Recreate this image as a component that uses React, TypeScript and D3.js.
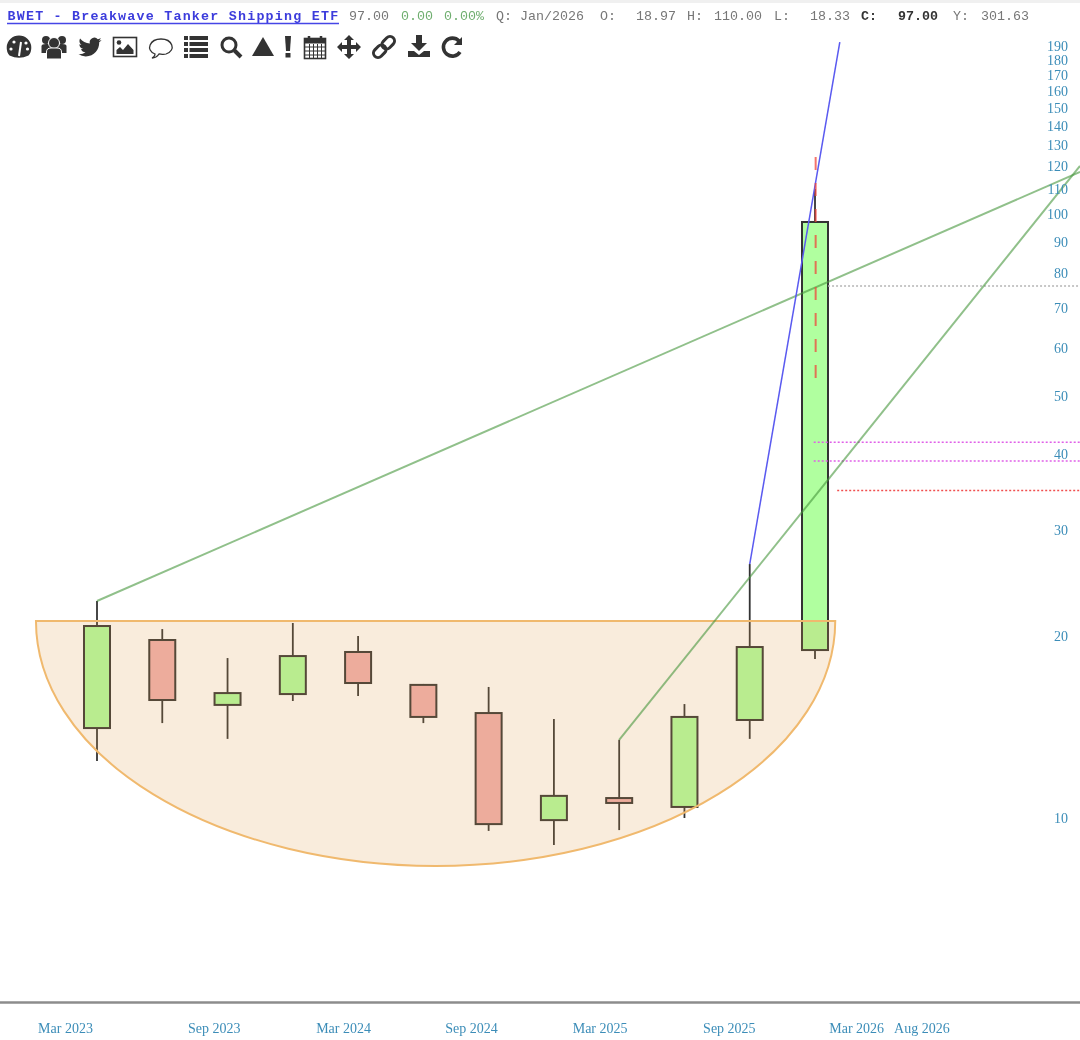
import React, { useEffect, useRef } from "react";
import * as d3 from "d3";

const width = 1080;
const height = 1040;

// Quarterly candles
const quarters = ["Apr 2023", "Jul 2023", "Oct 2023", "Jan 2024", "Apr 2024", "Jul 2024", "Oct 2024", "Jan 2025", "Apr 2025", "Jul 2025", "Oct 2025", "Jan 2026"];
const opens = [14.09, 19.71, 15.39, 16.04, 18.83, 16.61, 14.92, 9.92, 10.79, 10.43, 14.53, 18.97];
const highs = [22.87, 20.55, 18.4, 21.03, 20.02, 16.67, 16.48, 14.58, 13.47, 15.44, 26.33, 110];
const lows = [12.43, 14.36, 13.52, 15.62, 15.92, 14.36, 9.52, 9.02, 9.55, 10.0, 13.52, 18.33];
const closes = [20.79, 15.68, 16.1, 18.54, 16.73, 14.7, 9.77, 10.88, 10.59, 14.7, 19.19, 97];

const yTicks = [10, 20, 30, 40, 50, 60, 70, 80, 90, 100, 110, 120, 130, 140, 150, 160, 170, 180, 190];
const xTickLabels = ["Mar 2023", "Sep 2023", "Mar 2024", "Sep 2024", "Mar 2025", "Sep 2025", "Mar 2026", "Aug 2026"];
const xTickSlots = [-0.49, 1.79, 3.77, 5.73, 7.7, 9.68, 11.63, 12.63];

// Drawn annotations: [slot, price] pairs
const greenLineA = [[0, 22.87], [15.06, 117.4]];
const greenLineB = [[8, 13.47], [15.06, 120.1]];
const blueLine = [[10, 26.33], [11.38, 192.6]];
const redDash = [[11.01, 124.3], [11.01, 53.5]];
const levelPrices = [76, 41.9, 39, 34.85];
const levelStarts = [11.2, 10.98, 10.98, 11.34];
const levelColors = ["#b5b5b5", "#e060e8", "#e060e8", "#f05050"];
const levelEnd = 15.06;

// Cup: a half ellipse under a flat rim
const cupLeft = -0.935;
const cupRight = 11.31;
const cupRim = 21.2;
const cupBottom = 8.33;

const quote = [
  { text: "97.00", x: 349, fill: "#777" },
  { text: "0.00", x: 401, fill: "#6fae6f" },
  { text: "0.00%", x: 444, fill: "#6fae6f" },
  { text: "Q: Jan/2026", x: 496, fill: "#777" },
  { text: "O:", x: 600, fill: "#777" },
  { text: "18.97", x: 636, fill: "#777" },
  { text: "H:", x: 687, fill: "#777" },
  { text: "110.00", x: 714, fill: "#777" },
  { text: "L:", x: 774, fill: "#777" },
  { text: "18.33", x: 810, fill: "#777" },
  { text: "C:", x: 861, fill: "#333", bold: true },
  { text: "97.00", x: 898, fill: "#333", bold: true },
  { text: "Y:", x: 953, fill: "#777" },
  { text: "301.63", x: 981, fill: "#777" },
];

const iconX = [19, 54, 90, 125, 161, 196, 231, 263, 288, 315, 349, 384, 419, 452];
const dark = "#333";

const Icons = () => {
  const icons = [
    // gauge
    <g>
      <path d="M-9.5 8.5A12.3 12.3 0 1 1 9.5 8.5Q0 13 -9.5 8.5Z" fill={dark} />
      <path d="M0 9L2 -5" stroke="#fff" strokeWidth={2} />
      <circle cx={-8} cy={2} r={1.6} fill="#fff" />
      <circle cx={-5} cy={-5} r={1.6} fill="#fff" />
      <circle cx={7} cy={-4} r={1.6} fill="#fff" />
      <circle cx={8.5} cy={2} r={1.6} fill="#fff" />
    </g>,
    // users
    <g fill={dark}>
      <circle cx={-8} cy={-7} r={4} />
      <circle cx={8} cy={-7} r={4} />
      <path d="M-12.5 6V-1Q-12.5 -3 -8 -3H8Q12.5 -3 12.5 -1V6Z" />
      <circle cx={0} cy={-4} r={5.5} fill={dark} stroke="#fff" strokeWidth={1} />
      <path d="M-7.5 12V5Q-7.5 1 -3 1H3Q7.5 1 7.5 5V12Z" stroke="#fff" strokeWidth={1} />
    </g>,
    // bird
    <path
      transform="translate(-11.5,-11.5) scale(0.96)"
      fill={dark}
      d="M23.953 4.57a10 10 0 01-2.825.775 4.958 4.958 0 002.163-2.723c-.951.555-2.005.959-3.127 1.184a4.92 4.92 0 00-8.384 4.482C7.69 8.095 4.067 6.13 1.64 3.162a4.822 4.822 0 00-.666 2.475c0 1.71.87 3.213 2.188 4.096a4.904 4.904 0 01-2.228-.616v.06a4.923 4.923 0 003.946 4.827 4.996 4.996 0 01-2.212.085 4.936 4.936 0 004.604 3.417 9.867 9.867 0 01-6.102 2.105c-.39 0-.779-.023-1.17-.067a13.995 13.995 0 007.557 2.209c9.053 0 13.998-7.496 13.998-13.985 0-.21 0-.42-.015-.63A9.935 9.935 0 0024 4.59z"
    />,
    // image
    <g>
      <rect x={-11.5} y={-9.5} width={23} height={19} fill="#fff" stroke={dark} strokeWidth={1.6} />
      <circle cx={-6} cy={-4.5} r={2.3} fill={dark} />
      <path d="M-8.5 7V3L-5 0L-2 3L3 -3L8.5 3V7Z" fill={dark} />
    </g>,
    // speech bubble
    <path d="M-6 7C-16 3 -11 -8 0 -8C11 -8 16 3 5 7C2 8 0 7 -2 7C-4 10 -6 11 -9 11C-7 10 -6 9 -6 7Z" fill="#fff" stroke={dark} strokeWidth={1.3} />,
    // list
    <g fill={dark}>
      {[-9, -3, 3, 9].map((y) => (
        <g key={y}>
          <rect x={-12} y={y - 2} width={4} height={4} />
          <rect x={-6.5} y={y - 2} width={18.5} height={4} />
        </g>
      ))}
    </g>,
    // search
    <g fill="none" stroke={dark}>
      <circle cx={-2} cy={-2} r={7} strokeWidth={3} />
      <path d="M3.5 3.5L10 10" strokeWidth={4} />
    </g>,
    // triangle
    <path d="M0 -10L11 9H-11Z" fill={dark} />,
    // exclamation
    <g fill={dark}>
      <path d="M-3 -11H3L2 4H-2Z" />
      <rect x={-2.5} y={6} width={5} height={4.5} />
    </g>,
    // calendar
    <g>
      <rect x={-10.5} y={-8.5} width={21} height={20} fill="#fff" stroke={dark} strokeWidth={1.6} />
      <rect x={-10.5} y={-8.5} width={21} height={5} fill={dark} />
      <path d="M-6 -11V-6M6 -11V-6" stroke={dark} strokeWidth={2.5} />
      <path d="M-10 0H10M-10 4H10M-10 8H10M-5.5 -3V11M-1.5 -3V11M2.5 -3V11M6.5 -3V11" stroke={dark} strokeWidth={1} />
    </g>,
    // move
    <path d="M0 -12L5 -7H2V-2H7V-5L12 0L7 5V2H2V7H5L0 12L-5 7H-2V2H-7V5L-12 0L-7 -5V-2H-2V-7H-5Z" fill={dark} />,
    // link
    <g fill="none" stroke={dark} strokeWidth={3} transform="rotate(-45)">
      <rect x={-13} y={-4.5} width={14} height={9} rx={4.5} />
      <rect x={-1} y={-4.5} width={14} height={9} rx={4.5} />
    </g>,
    // download
    <g fill={dark}>
      <path d="M-3 -12H3V-4H8L0 4L-8 -4H-3Z" />
      <path d="M-11 4H-5L0 8L5 4H11V10H-11Z" />
    </g>,
    // reload
    <g>
      <path d="M7 -6A9 9 0 1 0 8 5" fill="none" stroke={dark} strokeWidth={3.6} />
      <path d="M10 -10V-2H2Z" fill={dark} />
    </g>,
  ];
  return (
    <g>
      {icons.map((icon, i) => (
        <g key={i} transform={`translate(${iconX[i]},47)`}>
          {icon}
        </g>
      ))}
    </g>
  );
};

const App = () => {
  const svgRef = useRef<SVGSVGElement>(null);

  useEffect(() => {
    const svg = d3.select(svgRef.current);
    svg.select(".plot").remove();
    const plot = svg.append("g").attr("class", "plot");

    const xScale = d3.scaleLinear().domain([0, 11]).range([97, 815]);
    const yScale = d3.scaleLog().domain([10, 100]).range([818, 214]);

    const priceLine = d3
      .line<number[]>()
      .x((d) => xScale(d[0]))
      .y((d) => yScale(d[1]));

    // Candles
    const candles = plot
      .selectAll("g.candle")
      .data(quarters.map((q, i) => i))
      .join("g")
      .attr("class", "candle");
    const bodyWidth = 26;
    candles
      .append("line")
      .attr("x1", (i) => xScale(i))
      .attr("x2", (i) => xScale(i))
      .attr("y1", (i) => yScale(highs[i]))
      .attr("y2", (i) => yScale(lows[i]))
      .attr("stroke", "#333")
      .attr("stroke-width", 1.8);
    candles
      .append("rect")
      .attr("x", (i) => xScale(i) - bodyWidth / 2)
      .attr("width", bodyWidth)
      .attr("y", (i) => yScale(Math.max(opens[i], closes[i])))
      .attr("height", (i) => yScale(Math.min(opens[i], closes[i])) - yScale(Math.max(opens[i], closes[i])))
      .attr("fill", (i) => (closes[i] >= opens[i] ? "#b0ff9f" : "#f0afaf"))
      .attr("stroke", "#333")
      .attr("stroke-width", 2);

    // Cup sits on top of the candles, semi transparent
    const rimY = yScale(cupRim);
    const x0 = xScale(cupLeft);
    const x1 = xScale(cupRight);
    plot
      .append("path")
      .attr("d", `M${x0},${rimY}L${x1},${rimY}A${(x1 - x0) / 2},${yScale(cupBottom) - rimY} 0 0 1 ${x0},${rimY}Z`)
      .attr("fill", "rgba(225,160,80,0.2)")
      .attr("stroke", "#f0b96e")
      .attr("stroke-width", 2);

    // Levels
    plot
      .selectAll("line.level")
      .data(levelPrices)
      .join("line")
      .attr("class", "level")
      .attr("x1", (d, i) => xScale(levelStarts[i]))
      .attr("x2", xScale(levelEnd))
      .attr("y1", (d) => yScale(d))
      .attr("y2", (d) => yScale(d))
      .attr("stroke", (d, i) => levelColors[i])
      .attr("stroke-width", 1.5)
      .attr("stroke-dasharray", "2 2");

    // Trend lines
    [greenLineA, greenLineB].forEach((pts) => {
      plot
        .append("path")
        .attr("d", priceLine(pts))
        .attr("fill", "none")
        .attr("stroke", "rgba(70,150,60,0.6)")
        .attr("stroke-width", 2);
    });
    plot
      .append("path")
      .attr("d", priceLine(blueLine))
      .attr("fill", "none")
      .attr("stroke", "#5a5af0")
      .attr("stroke-width", 1.5);
    plot
      .append("path")
      .attr("d", priceLine(redDash))
      .attr("fill", "none")
      .attr("stroke", "rgba(240,70,60,0.75)")
      .attr("stroke-width", 2)
      .attr("stroke-dasharray", "13 13");

    // Axes
    const yAxis = d3
      .axisLeft(yScale)
      .tickValues(yTicks)
      .tickFormat((d) => String(d))
      .tickSize(0)
      .tickPadding(0);
    const yGroup = plot.append("g").attr("transform", "translate(1068,0)").call(yAxis);
    yGroup.select(".domain").remove();

    const xAxis = d3
      .axisBottom(xScale)
      .tickValues(xTickSlots)
      .tickFormat((d, i) => xTickLabels[i])
      .tickSize(0)
      .tickPadding(0);
    const xGroup = plot.append("g").attr("transform", "translate(0,1023)").call(xAxis);
    xGroup.select(".domain").remove();

    plot
      .selectAll(".tick text")
      .attr("fill", "#3c8db8")
      .style("font-family", "'Liberation Serif', serif")
      .style("font-size", "14px");

    plot
      .append("line")
      .attr("x1", 0)
      .attr("x2", width)
      .attr("y1", 1002.5)
      .attr("y2", 1002.5)
      .attr("stroke", "#8c8c8c")
      .attr("stroke-width", 2.5);
  }, []);

  return (
    <svg
      ref={svgRef}
      width={width}
      height={height}
      viewBox={`0 0 ${width} ${height}`}
      style={{ position: "absolute", left: 0, top: 0, display: "block", background: "#fff", filter: "blur(0.5px)" }}
    >
      <rect x={0} y={0} width={width} height={3} fill="#f0f0f0" />
      <text x={7.5} y={20} fontFamily="'Liberation Mono', monospace" fontSize={13.33} fontWeight="bold" letterSpacing={1.22} fill="#3c3cdc">
        BWET - Breakwave Tanker Shipping ETF
      </text>
      <line x1={7} x2={339} y1={23.5} y2={23.5} stroke="#4646e6" strokeWidth={1.6} />
      {quote.map((q, i) => (
        <text key={i} x={q.x} y={20} fontFamily="'Liberation Mono', monospace" fontSize={13.33} fontWeight={q.bold ? "bold" : "normal"} fill={q.fill}>
          {q.text}
        </text>
      ))}
      <Icons />
    </svg>
  );
};

export default App;
